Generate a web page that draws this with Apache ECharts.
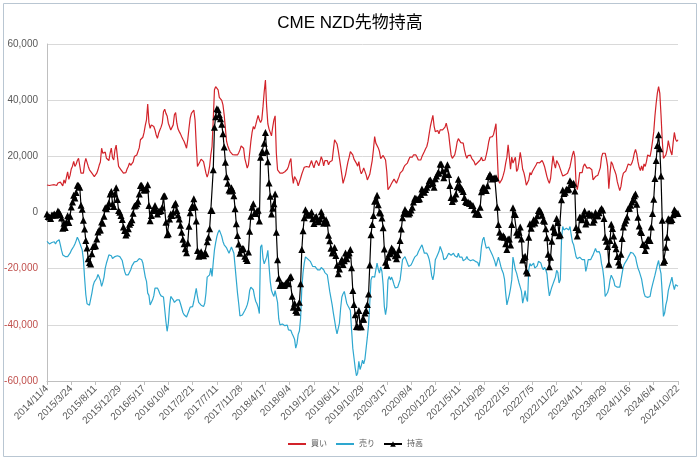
<!DOCTYPE html>
<html><head><meta charset="utf-8">
<script src="https://cdn.jsdelivr.net/npm/echarts@6/dist/echarts.min.js"></script>
<style>html,body{margin:0;padding:0;background:#fff}#c{width:700px;height:460px}</style>
</head><body><div id="c"></div>
<script>
// values in thousands of contracts
const startDate = '2014/11/4';
const weeks = 521;
const longs = [
9.8,9.5,9.6,9.4,9.8,9.3,9.9,10.2,9.6,10.5,
9.8,10.8,11.5,9.5,11.6,10.4,12.5,14.5,11.8,13.2,
15.5,16.5,18.2,16.4,17.2,18.5,19.3,19.9,14.0,14.5,
14.0,17.5,19.3,19.9,16.4,15.2,14.6,14.0,14.0,12.8,
12.2,14.0,15.2,16.8,18.0,22.9,21.1,21.7,21.5,19.3,
18.7,18.5,21.1,22.9,19.5,18.7,22.3,24.0,20.0,16.4,
15.8,15.2,14.6,14.0,14.6,14.2,15.5,16.4,17.6,16.8,
16.4,18.0,19.9,19.9,20.5,21.1,23.0,25.9,26.5,26.8,
28.5,31.0,33.0,38.6,32.0,30.0,31.2,31.8,30.6,29.4,
27.6,26.4,28.2,29.4,30.4,31.8,35.9,36.8,35.3,34.4,
31.8,31.2,29.4,28.8,31.2,34.8,35.6,31.8,29.7,28.8,
28.0,27.0,26.1,25.3,24.1,22.9,25.9,30.0,33.6,35.3,
35.9,36.5,33.0,24.0,16.4,16.4,18.1,19.0,18.5,18.1,
17.8,14.0,12.6,14.0,16.4,20.5,23.5,33.0,43.7,44.8,
45.4,43.7,41.0,40.3,39.9,38.3,34.8,30.0,25.3,23.7,
22.5,21.6,21.1,20.6,20.5,20.5,20.0,20.5,21.3,22.3,
23.7,23.7,22.9,19.3,17.6,15.8,17.0,21.1,25.3,28.5,
30.6,29.7,31.2,33.0,34.6,33.0,32.0,33.0,37.7,43.0,
47.2,37.7,31.6,29.7,30.4,27.3,30.4,33.0,34.4,21.1,
15.2,14.5,14.0,14.5,14.0,13.4,14.5,14.9,15.4,16.4,
18.1,19.2,13.4,10.4,12.8,13.4,11.2,9.5,10.2,12.2,
13.7,14.9,16.1,16.8,16.4,15.9,16.1,16.6,18.5,17.0,
15.9,17.6,18.5,17.6,16.6,18.1,19.9,18.7,16.6,18.5,
19.0,18.5,17.0,18.0,17.8,18.5,22.3,25.9,25.9,24.4,
22.1,19.3,16.4,13.4,10.4,10.9,13.4,15.8,18.0,19.7,
21.7,22.1,20.5,19.0,19.0,17.5,16.5,18.1,15.2,13.8,
14.6,15.9,16.4,13.4,11.6,11.0,13.6,16.1,18.5,22.3,
27.0,24.7,24.1,23.0,21.7,19.2,19.0,20.3,20.5,18.7,
14.6,8.1,8.1,9.5,10.4,11.0,11.9,11.5,10.4,11.6,
12.6,14.0,14.5,14.9,16.0,16.8,16.6,17.6,18.7,19.7,
19.6,19.7,20.5,21.0,20.5,19.7,18.7,18.4,18.7,19.9,
20.4,21.7,22.7,23.5,25.3,28.2,30.8,32.7,34.6,30.8,
28.8,28.9,29.2,28.0,29.4,29.9,29.4,29.2,30.4,31.8,
32.4,28.0,24.1,20.5,19.3,19.3,20.5,22.5,25.1,26.3,
25.6,24.9,24.2,24.7,22.3,20.5,19.3,20.3,20.5,20.4,
19.3,19.3,18.1,16.9,16.9,17.8,18.5,18.7,19.7,18.5,
17.8,18.7,20.5,22.5,25.1,26.8,26.7,27.0,27.8,29.7,
31.6,21.1,11.6,10.4,10.7,11.9,13.3,14.9,17.6,19.7,
24.1,19.9,15.4,19.7,17.6,17.4,19.7,14.6,15.4,18.1,
21.4,18.7,15.4,14.2,12.2,9.7,10.2,11.6,14.2,13.4,
14.6,15.4,16.1,16.9,17.8,18.1,17.7,18.2,18.5,17.6,
16.4,14.6,12.8,11.4,10.4,12.2,16.4,20.2,17.4,15.8,
18.5,17.8,16.8,16.1,14.2,13.0,13.0,13.4,13.9,14.0,
14.6,16.3,18.5,20.5,21.9,19.7,10.4,8.1,10.7,14.2,
14.6,14.2,16.4,17.3,16.9,15.8,16.4,16.0,15.8,15.2,
11.6,11.9,12.8,12.8,13.3,13.8,16.0,19.7,21.1,21.6,
21.1,19.2,16.4,8.5,14.0,18.1,17.3,15.8,14.7,13.4,
10.9,9.3,7.8,9.3,12.3,14.0,14.5,14.8,15.2,17.3,
16.6,16.8,17.6,19.0,21.1,22.5,20.9,18.1,16.1,14.9,
16.6,14.9,17.3,16.4,18.1,20.5,20.9,19.9,22.3,25.3,
28.7,34.4,38.9,42.5,44.8,42.5,34.8,25.9,19.3,18.7,
20.5,22.3,25.6,23.5,21.7,20.5,24.9,28.5,26.1,25.3,
25.9];
const shorts = [
-10.3,-10.9,-11.2,-11.5,-10.7,-10.2,-10.4,-11.2,-10.3,-10.0,
-9.7,-11.5,-13.5,-15.1,-15.4,-15.7,-15.9,-15.7,-15.4,-14.5,
-13.5,-12.8,-12.1,-11.2,-10.1,-8.8,-9.7,-10.9,-11.4,-13.3,
-16.8,-23.4,-29.3,-32.5,-32.9,-33.0,-32.9,-28.7,-26.1,-24.7,
-24.0,-23.4,-22.1,-23.0,-24.2,-26.3,-24.9,-23.0,-19.8,-18.0,
-16.6,-15.1,-14.5,-15.4,-16.4,-16.6,-15.7,-15.2,-15.4,-15.7,
-15.7,-16.3,-17.1,-19.2,-21.0,-22.2,-22.8,-22.2,-21.8,-20.4,
-19.0,-18.3,-17.6,-17.3,-17.4,-17.1,-16.4,-16.3,-16.8,-18.0,
-20.5,-23.0,-24.5,-28.7,-29.5,-32.9,-32.3,-31.1,-29.7,-26.9,
-26.6,-26.9,-27.8,-28.9,-29.7,-29.9,-30.1,-30.8,-38.8,-42.3,
-39.4,-33.5,-29.9,-29.9,-31.1,-32.0,-32.3,-31.1,-30.6,-31.1,
-32.5,-34.0,-35.6,-36.4,-37.0,-37.2,-36.8,-34.9,-33.7,-33.5,
-33.5,-31.6,-31.0,-27.0,-29.9,-32.0,-32.6,-33.0,-33.5,-33.5,
-32.3,-28.7,-23.0,-22.8,-22.2,-19.8,-22.8,-17.8,-13.3,-10.7,
-8.5,-7.1,-6.2,-6.9,-8.5,-10.3,-11.5,-12.1,-12.6,-13.3,
-14.5,-13.9,-12.3,-12.7,-14.5,-19.2,-24.0,-28.7,-32.5,-36.8,
-37.0,-36.5,-35.8,-34.9,-34.0,-32.9,-31.1,-27.8,-26.6,-26.6,
-27.5,-29.9,-31.6,-32.5,-33.8,-36.0,-12.3,-11.5,-16.3,-18.3,
-18.7,-15.9,-13.5,-19.2,-24.6,-27.8,-28.9,-29.9,-27.8,-28.1,
-32.0,-37.9,-40.0,-40.0,-39.7,-39.4,-40.3,-40.0,-40.1,-41.8,
-41.3,-42.0,-43.2,-44.1,-45.1,-48.3,-46.7,-43.4,-42.2,-37.6,
-26.9,-21.4,-18.0,-15.8,-16.3,-16.6,-17.1,-17.4,-18.3,-19.2,
-19.8,-19.3,-19.9,-20.4,-19.9,-20.4,-19.6,-19.8,-20.4,-21.4,
-21.6,-22.2,-25.1,-28.1,-30.5,-32.9,-35.8,-38.4,-41.2,-43.2,
-43.9,-39.4,-34.0,-30.1,-28.9,-28.1,-27.8,-32.3,-33.2,-34.0,
-34.9,-41.8,-48.3,-51.8,-55.4,-58.1,-57.2,-53.0,-55.9,-54.5,
-52.6,-53.9,-52.2,-48.3,-44.4,-40.0,-32.3,-24.0,-22.8,-23.4,
-23.0,-20.4,-18.0,-20.2,-21.6,-19.4,-21.0,-25.7,-33.5,-36.4,
-33.5,-24.0,-22.8,-24.0,-23.0,-24.2,-25.7,-26.9,-26.9,-26.6,
-25.9,-24.0,-20.4,-16.8,-16.3,-15.7,-16.4,-18.0,-19.2,-19.8,
-18.7,-17.8,-16.8,-15.9,-15.4,-15.1,-14.0,-13.5,-12.3,-11.5,
-13.0,-14.5,-14.5,-14.5,-15.4,-16.8,-19.2,-22.5,-24.0,-21.8,
-16.8,-15.9,-15.2,-13.9,-12.1,-12.7,-14.5,-16.8,-16.8,-16.3,
-15.4,-14.5,-14.5,-15.2,-15.4,-14.5,-15.4,-15.9,-15.9,-14.5,
-15.9,-16.1,-15.9,-17.2,-17.0,-16.6,-15.7,-16.6,-17.2,-17.2,
-16.8,-16.8,-17.1,-17.4,-17.4,-17.8,-19.2,-16.8,-12.3,-9.7,
-8.8,-10.9,-12.7,-13.0,-12.3,-13.3,-14.0,-15.1,-15.7,-17.4,
-19.2,-19.2,-15.9,-17.4,-19.2,-20.6,-21.6,-23.7,-28.7,-32.9,
-33.5,-29.3,-27.0,-24.0,-15.9,-18.0,-20.4,-21.6,-23.4,-25.1,
-26.6,-28.1,-32.3,-30.2,-27.8,-30.5,-31.7,-20.4,-18.2,-19.0,
-18.7,-18.0,-19.8,-19.7,-19.0,-17.4,-16.8,-18.0,-19.5,-20.4,
-19.5,-20.4,-21.8,-26.3,-29.7,-28.1,-26.6,-25.4,-24.2,-23.0,
-20.6,-21.4,-25.1,-24.0,-9.7,-5.0,-6.2,-6.2,-5.6,-5.9,
-6.2,-5.0,-8.0,-10.5,-11.5,-12.0,-15.7,-16.5,-16.8,-15.9,
-16.3,-16.8,-17.4,-16.8,-21.0,-19.2,-16.8,-16.4,-16.8,-15.9,
-15.1,-14.5,-12.8,-14.0,-14.5,-13.9,-15.1,-18.3,-20.2,-23.7,
-29.9,-29.4,-28.5,-26.9,-24.0,-22.3,-23.0,-24.2,-26.1,-26.3,
-26.6,-26.9,-26.6,-24.2,-21.6,-19.2,-18.2,-17.6,-16.8,-15.9,
-15.1,-14.2,-13.9,-14.5,-15.1,-15.9,-18.0,-19.8,-20.9,-21.6,
-23.7,-26.3,-28.7,-29.9,-29.9,-30.2,-30.4,-29.9,-27.5,-25.7,
-24.0,-22.3,-20.4,-18.6,-17.1,-19.8,-21.8,-28.7,-37.0,-35.8,
-32.9,-31.1,-27.8,-26.1,-24.6,-23.0,-25.7,-27.5,-25.7,-25.6,
-26.3];
const nets = [
-0.5,-1.4,-1.6,-2.1,-0.9,-0.9,-0.5,-1.0,-0.7,0.5,
0.1,-0.7,-2.0,-5.6,-3.8,-5.3,-3.4,-1.2,-3.6,-1.3,
2.0,3.7,6.1,5.2,7.1,9.7,9.6,9.0,2.6,1.2,
-2.8,-5.9,-10.0,-12.6,-16.5,-17.8,-18.3,-14.7,-12.1,-11.9,
-11.8,-9.4,-6.9,-6.2,-6.2,-3.4,-3.8,-1.3,1.7,1.3,
2.1,3.4,6.6,7.5,3.1,2.1,6.6,8.8,4.6,0.7,
0.1,-1.1,-2.5,-5.2,-6.4,-8.0,-7.3,-5.8,-4.2,-3.6,
-2.6,-0.3,2.3,2.6,3.1,4.0,6.6,9.6,9.7,8.8,
8.0,8.0,8.5,9.9,2.5,-2.9,-1.1,0.7,0.9,2.5,
1.0,-0.5,0.4,0.5,0.7,1.9,5.8,6.0,-3.5,-7.9,
-7.6,-2.3,-0.5,-1.1,0.1,2.8,3.3,0.7,-0.9,-2.3,
-4.5,-7.0,-9.5,-11.1,-12.9,-14.3,-10.9,-4.9,-0.1,1.8,
2.4,4.9,2.0,-3.0,-13.5,-15.6,-14.5,-14.0,-15.0,-15.4,
-14.5,-14.7,-10.4,-8.8,-5.8,0.7,0.7,15.2,30.4,34.1,
36.9,36.6,34.8,33.4,31.4,28.0,23.3,17.9,12.7,10.4,
8.0,7.7,8.8,7.9,6.0,1.3,-4.0,-8.2,-11.2,-14.5,
-13.3,-12.8,-12.9,-15.6,-16.4,-17.1,-14.1,-6.7,-1.3,1.9,
3.1,-0.2,-0.4,0.5,0.8,-3.0,19.7,21.5,21.4,24.7,
28.5,21.8,18.1,10.5,5.8,-0.5,1.5,3.1,6.6,-7.0,
-16.8,-23.4,-26.0,-25.5,-25.7,-26.0,-25.8,-25.1,-24.7,-25.4,
-23.2,-22.8,-29.8,-33.7,-32.3,-34.9,-35.5,-33.9,-32.0,-25.4,
-13.2,-6.5,-1.9,1.0,0.1,-0.7,-1.0,-0.8,0.2,-2.2,
-3.9,-1.7,-1.4,-2.8,-3.3,-2.3,0.3,-1.1,-3.8,-2.9,
-2.6,-3.7,-8.1,-10.1,-12.7,-14.4,-13.5,-12.5,-15.3,-18.8,
-21.8,-20.1,-17.6,-16.7,-18.5,-17.2,-14.4,-16.5,-15.2,-14.3,
-13.2,-19.7,-27.8,-32.8,-36.4,-40.6,-40.7,-34.9,-40.7,-40.7,
-38.0,-38.0,-35.8,-34.9,-32.8,-29.0,-18.7,-7.9,-4.3,-1.1,
4.0,4.3,6.1,2.8,0.1,-0.2,-2.0,-5.4,-13.0,-17.7,
-18.9,-15.9,-14.7,-14.5,-12.6,-13.2,-13.8,-15.4,-16.5,-15.0,
-13.3,-10.0,-5.9,-1.9,-0.3,1.1,0.2,-0.4,-0.5,-0.1,
0.9,1.9,3.7,5.1,5.1,4.6,4.7,4.9,6.4,8.4,
7.4,7.2,8.2,9.0,9.9,11.4,11.6,10.2,10.6,9.0,
12.0,13.0,14.0,14.1,17.3,17.2,14.9,12.4,13.6,15.5,
17.0,13.5,9.6,5.3,3.9,4.8,5.1,6.6,9.2,11.8,
9.7,8.8,8.3,7.5,5.3,3.9,3.6,3.7,3.3,3.2,
2.5,2.5,1.0,-0.5,-0.5,0.0,-0.7,1.9,7.4,8.8,
9.0,7.8,7.8,9.5,12.8,13.5,12.7,11.9,12.1,12.3,
12.4,1.9,-4.3,-7.0,-8.5,-8.7,-8.3,-8.8,-11.1,-13.2,
-9.4,-9.4,-11.6,-4.3,1.7,-0.6,-0.7,-7.0,-8.0,-7.0,
-5.2,-9.4,-16.9,-16.0,-15.6,-20.8,-21.5,-8.8,-4.0,-5.6,
-4.1,-2.6,-3.7,-2.8,-1.2,0.7,0.9,0.2,-1.0,-2.8,
-3.1,-5.8,-9.0,-14.9,-19.3,-15.9,-10.2,-5.2,-6.8,-7.2,
-2.1,-3.6,-8.3,-7.9,4.5,8.0,6.8,7.2,8.3,8.1,
8.4,11.3,10.5,10.0,10.4,7.7,-5.3,-8.4,-6.1,-1.7,
-1.7,-2.6,-1.0,0.5,-4.1,-3.4,-0.4,-0.4,-1.0,-0.7,
-3.5,-2.6,0.0,-1.2,-1.2,-0.1,0.9,1.4,0.9,-2.1,
-8.8,-10.2,-12.1,-18.4,-10.0,-4.2,-5.7,-8.4,-11.4,-12.9,
-15.7,-17.6,-18.8,-14.9,-9.3,-5.2,-3.7,-2.8,-1.6,1.4,
1.5,2.6,3.7,4.5,6.0,6.6,2.9,-1.7,-4.8,-6.7,
-7.1,-11.4,-11.4,-13.5,-11.8,-9.7,-9.5,-10.0,-5.2,-0.4,
4.7,12.1,18.5,23.9,27.7,22.7,13.0,-2.8,-17.7,-17.1,
-12.4,-8.8,-2.2,-2.6,-2.9,-2.5,-0.8,1.0,0.4,-0.3,
-0.4];
const yTicks = [-60, -40, -20, 0, 20, 40, 60];
const seriesNames = ['買い', '売り', '持高'];

// weekly category dates
const categories = [];
(function () {
  const p = startDate.split('/').map(Number);
  const t0 = Date.UTC(p[0], p[1] - 1, p[2]);
  for (let i = 0; i < weeks; i++) {
    const d = new Date(t0 + i * 7 * 86400000);
    categories.push(d.getUTCFullYear() + '/' + (d.getUTCMonth() + 1) + '/' + d.getUTCDate());
  }
})();

const chart = echarts.init(document.getElementById('c'), null, { renderer: 'canvas' });
const FONT = '"Liberation Sans", "Noto Sans CJK JP", sans-serif';
const RED = '#d2232a', BLUE = '#2ea7cf';
chart.setOption({
  animation: false,
  backgroundColor: '#fff',
  textStyle: { fontFamily: FONT },
  graphic: [{
    type: 'rect', shape: { x: 3.5, y: 3.5, width: 693, height: 453 },
    style: { fill: 'none', stroke: '#b9c6d2', lineWidth: 1 }, silent: true, z: -1
  }],
  title: {
    text: 'CME NZD先物持高', left: 'center', top: 10,
    textStyle: { fontSize: 17, fontWeight: 'normal', color: '#000', fontFamily: FONT }
  },
  legend: {
    top: 435, left: 282, itemWidth: 18, itemHeight: 7, itemGap: 8,
    textStyle: { fontSize: 8, color: '#595959', fontFamily: FONT },
    data: [
      { name: seriesNames[0], itemStyle: { opacity: 0 } },
      { name: seriesNames[1], itemStyle: { opacity: 0 } },
      { name: seriesNames[2] }
    ]
  },
  grid: { left: 47, right: 22, top: 44, bottom: 79, containLabel: false },
  xAxis: [{
    type: 'category', data: categories, boundaryGap: false,
    axisLine: { show: false }, axisTick: { show: false },
    axisLabel: { interval: 19, rotate: 45, fontSize: 10, color: '#595959', margin: 6, fontFamily: FONT },
    splitLine: { show: false }
  }, {
    type: 'category', data: categories, boundaryGap: false, position: 'bottom',
    axisLine: { show: true, onZero: true, lineStyle: { color: '#bfbfbf', width: 1 } },
    axisTick: { show: true, interval: 19, length: 4, lineStyle: { color: '#bfbfbf' } },
    axisLabel: { show: false }, splitLine: { show: false }
  }],
  yAxis: {
    type: 'value', min: yTicks[0], max: yTicks[yTicks.length - 1], interval: 20,
    axisLine: { show: true, lineStyle: { color: '#bfbfbf' } },
    axisTick: { show: false },
    splitLine: { lineStyle: { color: '#d9d9d9', width: 1 } },
    axisLabel: {
      fontSize: 10, color: '#595959', margin: 9, fontFamily: FONT,
      formatter: function (v) {
        const s = (v * 1000).toLocaleString('en-US');
        return v < 0 ? '{neg|' + s + '}' : s;
      },
      rich: { neg: { color: '#c0504d', fontSize: 10, fontFamily: FONT } }
    }
  },
  series: [{
    name: seriesNames[0], type: 'line', data: longs, showSymbol: false, symbol: 'none',
    lineStyle: { color: RED, width: 1.2 }, itemStyle: { color: RED }, z: 2
  }, {
    name: seriesNames[1], type: 'line', data: shorts, showSymbol: false, symbol: 'none',
    lineStyle: { color: BLUE, width: 1.2 }, itemStyle: { color: BLUE }, z: 2
  }, {
    name: seriesNames[2], type: 'line', data: nets, symbol: 'triangle', symbolSize: 7,
    showSymbol: true, showAllSymbol: true,
    lineStyle: { color: '#000', width: 1.2 }, itemStyle: { color: '#000' }, z: 3
  }]
});
</script></body></html>
